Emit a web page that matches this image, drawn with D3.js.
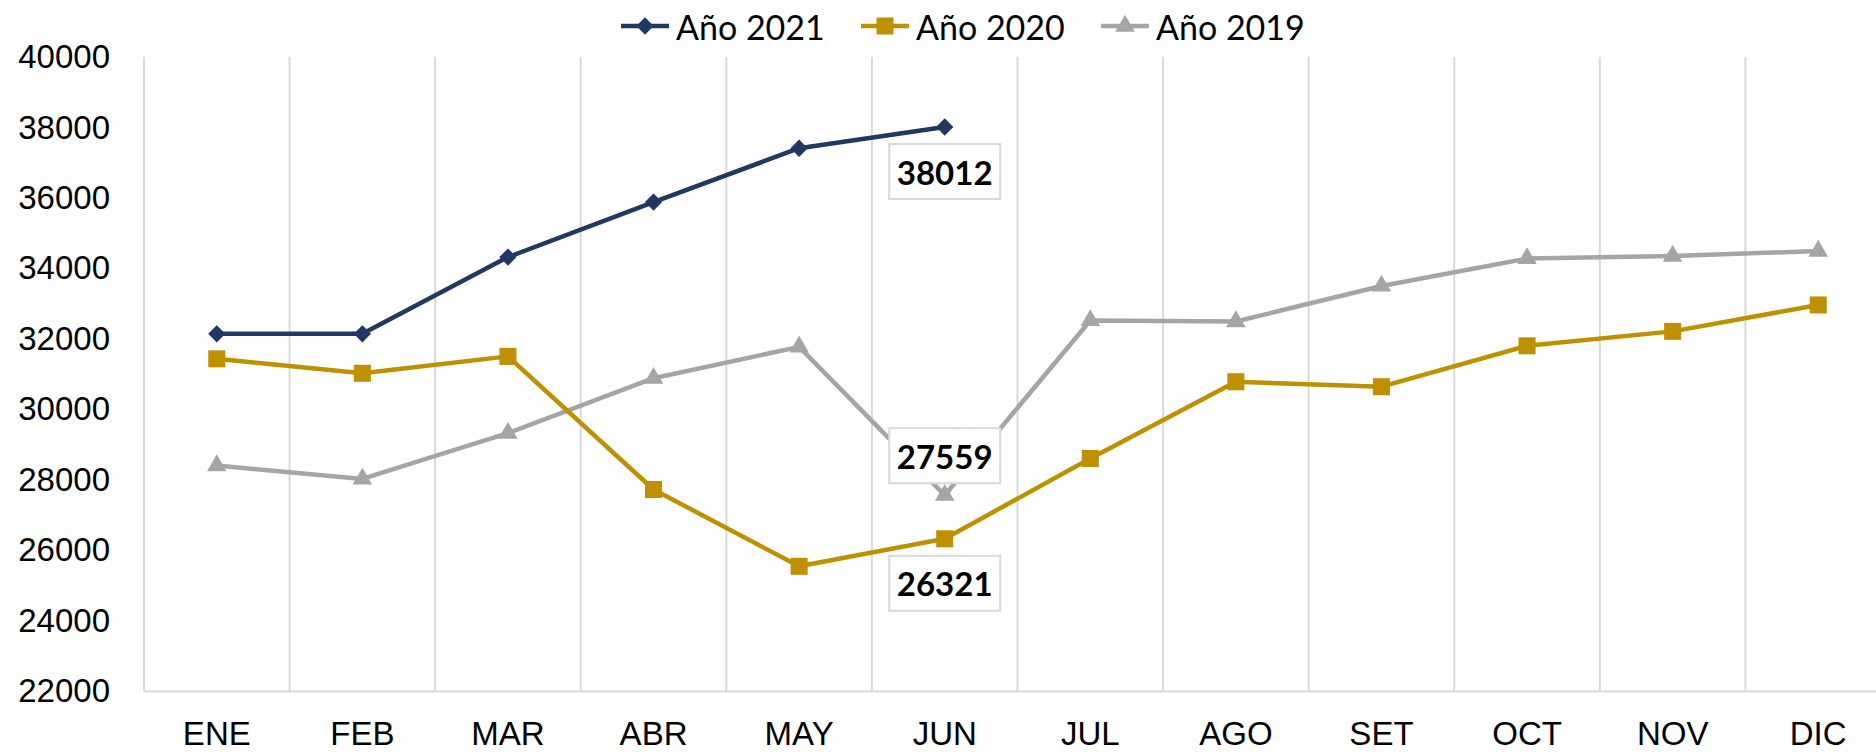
<!DOCTYPE html>
<html>
<head>
<meta charset="utf-8">
<script src="https://cdn.jsdelivr.net/npm/d3@7"></script>
<style>
  body { margin: 0; background: #fff; }
  svg { display: block; font-family: Lato, "Open Sans", sans-serif; }
</style>
</head>
<body>
<figure style="margin:0"></figure>
<script>
const months = ["ENE", "FEB", "MAR", "ABR", "MAY", "JUN", "JUL", "AGO", "SET", "OCT", "NOV", "DIC"]
const yTicks = [22000, 24000, 26000, 28000, 30000, 32000, 34000, 36000, 38000, 40000]

const y2021 = [32140, 32140, 34320, 35880, 37410, 38012]
const y2020 = [31430, 31020, 31500, 27720, 25540, 26321, 28600, 30780, 30640, 31800, 32210, 32960]
const y2019 = [28400, 28020, 29320, 30880, 31770, 27559, 32520, 32490, 33500, 34280, 34350, 34490]

const seriesNames = ["Año 2021", "Año 2020", "Año 2019"]
const seriesValues = [y2021, y2020, y2019]
const colors = ["#203864", "#BF9000", "#A5A5A5"]

// data labels shown on the chart (series index, month, above/below)
const labels = [
  { s: 0, m: "JUN", pos: "below" },
  { s: 2, m: "JUN", pos: "above" },
  { s: 1, m: "JUN", pos: "below" }
]

// marker shapes: diamond = square turned 45deg, square, triangle
function marker(sel, s) {
  if (s === 0) {
    sel.attr("d", d3.symbol().type(d3.symbolSquare).size(150)())
       .attr("transform", function() { return d3.select(this).attr("transform") + " rotate(45)" })
  } else if (s === 1) {
    sel.attr("d", d3.symbol().type(d3.symbolSquare).size(290)())
  } else {
    sel.attr("d", d3.symbol().type(d3.symbolTriangle).size(165)())
  }
}

const figure = document.querySelector('figure')
const W = 1876, H = 754

var svg = d3.select(figure).append("svg").attr("width", W).attr("height", H),
    margin = {top: 57, left: 144, bottom: 63},
    plotW = 1747,
    plotH = H - margin.top - margin.bottom

var x = d3.scaleBand()
    .domain(months)
    .range([margin.left, margin.left + plotW])

var y = d3.scaleLinear()
    .domain([22000, 40000])
    .range([margin.top + plotH, margin.top])

// vertical gridlines at category boundaries
svg.append("g")
  .selectAll("line")
  .data(months.concat(["_end"]))
  .join("line")
    .attr("x1", (d, i) => margin.left + i * x.bandwidth())
    .attr("x2", (d, i) => margin.left + i * x.bandwidth())
    .attr("y1", y(40000))
    .attr("y2", y(22000))
    .attr("stroke", "#D9D9D9")
    .attr("stroke-width", 2)

// x axis
var xAxis = svg.append("g")
    .attr("transform", "translate(0," + y(22000) + ")")
    .call(d3.axisBottom(x).tickSize(0).tickPadding(31))
xAxis.select(".domain").attr("stroke", "#D9D9D9").attr("stroke-width", 2)
xAxis.selectAll("text").attr("font-size", 33).attr("fill", "#000")

// y axis
var yAxis = svg.append("g")
    .attr("transform", "translate(" + margin.left + ",0)")
    .call(d3.axisLeft(y).tickValues(yTicks).tickSize(0).tickPadding(34).tickFormat(d3.format("d")))
yAxis.select(".domain").remove()
yAxis.selectAll("text").attr("font-size", 33).attr("fill", "#000")

var line = d3.line()
    .x((d, i) => x(months[i]) + x.bandwidth() / 2)
    .y(d => y(d))

// draw back to front: 2019, 2020, 2021
;[2, 1, 0].forEach(function(s) {
  var g = svg.append("g")
  g.append("path")
    .datum(seriesValues[s])
    .attr("d", line)
    .attr("fill", "none")
    .attr("stroke", colors[s])
    .attr("stroke-width", 4.5)
    .attr("stroke-linejoin", "round")
  g.selectAll("path.mk")
    .data(seriesValues[s])
    .join("path")
      .attr("class", "mk")
      .attr("transform", (d, i) => "translate(" + (x(months[i]) + x.bandwidth() / 2) + "," + y(d) + ")")
      .attr("fill", colors[s])
      .each(function() { marker(d3.select(this), s) })
})

// data labels
labels.forEach(function(l) {
  var i = months.indexOf(l.m)
  var v = seriesValues[l.s][i]
  var cx = x(l.m) + x.bandwidth() / 2
  var bw = 111, bh = 55
  var top = l.pos === "below" ? y(v) + 17 : y(v) - 12 - bh
  svg.append("rect")
    .attr("x", cx - bw / 2).attr("y", top)
    .attr("width", bw).attr("height", bh)
    .attr("fill", "#fff")
    .attr("stroke", "#D9D9D9")
    .attr("stroke-width", 2)
  svg.append("text")
    .attr("x", cx).attr("y", top + bh / 2)
    .attr("text-anchor", "middle")
    .attr("dominant-baseline", "central")
    .attr("font-size", 33)
    .attr("font-weight", "bold")
    .text(v)
})

// legend
var legendX = [621, 861, 1101]
var legend = svg.append("g")
seriesNames.forEach(function(name, s) {
  var lg = legend.append("g").attr("transform", "translate(" + legendX[s] + ",26)")
  lg.append("line")
    .attr("x1", 0).attr("x2", 48)
    .attr("stroke", colors[s]).attr("stroke-width", 4.5)
  lg.append("path")
    .attr("transform", "translate(24,0)")
    .attr("fill", colors[s])
    .call(marker, s)
  lg.append("text")
    .attr("x", 55)
    .attr("dominant-baseline", "central")
    .attr("font-size", 34)
    .text(name)
})
</script>
</body>
</html>
